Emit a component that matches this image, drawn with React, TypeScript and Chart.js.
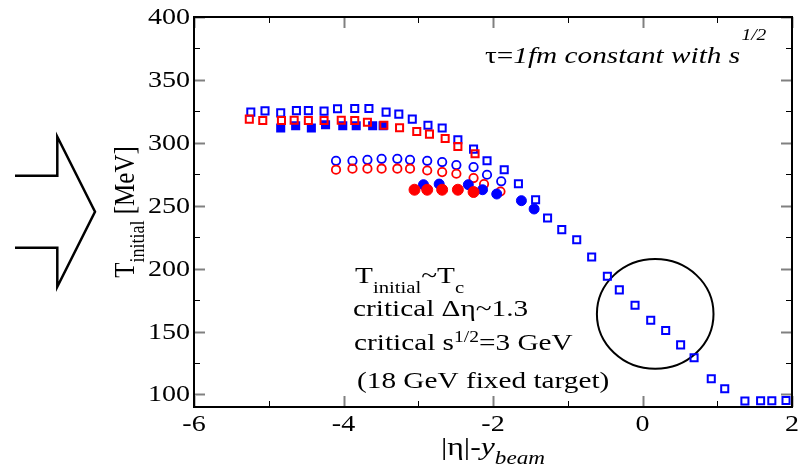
import React, { useEffect, useRef } from 'react';
import { Chart, registerables } from 'chart.js';
Chart.register(...registerables);

// ---- data (|eta| - y_beam, T_initial [MeV]) ----
const blueOpenSqX = [-5.24, -5.05, -4.84, -4.63, -4.47, -4.26, -4.08, -3.85, -3.66, -3.43, -3.26, -3.08, -2.87, -2.68, -2.47, -2.26, -2.08, -1.85, -1.66, -1.43, -1.27, -1.08, -0.88, -0.68, -0.47, -0.31, -0.10, 0.11, 0.31, 0.51, 0.69, 0.92, 1.10, 1.37, 1.58, 1.73, 1.92];
const blueOpenSqY = [324.4, 325.4, 323.8, 325.6, 325.6, 325.2, 327.0, 327.2, 327.2, 324.4, 322.8, 318.8, 314.0, 311.7, 302.4, 295.0, 285.7, 278.6, 267.5, 254.8, 240.2, 231.0, 223.0, 209.3, 193.9, 183.1, 170.9, 159.0, 150.8, 139.4, 129.1, 112.5, 104.5, 94.7, 95.0, 95.0, 95.2];

const redOpenSqX = [-5.26, -5.08, -4.83, -4.66, -4.47, -4.26, -4.03, -3.85, -3.68, -3.46, -3.25, -3.02, -2.85, -2.64, -2.47, -2.24];
const redOpenSqY = [318.8, 317.7, 317.7, 318.0, 317.7, 317.7, 318.0, 317.7, 316.4, 314.0, 312.0, 309.0, 306.9, 303.4, 297.1, 291.3];

const blueFillSqX = [-4.84, -4.64, -4.43, -4.24, -4.01, -3.83, -3.61, -3.47];
const blueFillSqY = [311.7, 313.5, 311.7, 314.3, 313.5, 313.5, 313.5, 313.5];

const blueOpenCircX = [-4.10, -3.88, -3.68, -3.49, -3.28, -3.11, -2.88, -2.68, -2.49, -2.26, -2.08, -1.89];
const blueOpenCircY = [285.7, 285.7, 286.5, 287.3, 287.3, 286.5, 285.7, 284.7, 282.3, 280.7, 274.6, 269.4];

const redOpenCircX = [-4.10, -3.88, -3.68, -3.49, -3.28, -3.11, -2.88, -2.68, -2.49, -2.26, -2.12, -1.90];
const redOpenCircY = [278.6, 279.4, 279.4, 279.4, 279.4, 279.4, 278.0, 276.7, 275.4, 272.0, 267.2, 261.3];

const blueFillCircX = [-2.93, -2.72, -2.33, -2.14, -1.95, -1.62, -1.45];
const blueFillCircY = [266.7, 267.2, 266.7, 262.7, 259.3, 254.0, 247.4];

const redFillCircX = [-3.05, -2.88, -2.68, -2.47, -2.26];
const redFillCircY = [262.7, 262.7, 262.7, 262.7, 260.9];

// highlighted region (ellipse) centre and radii in data units
const ellipseCenter = [0.17, 164];
const ellipseRadius = [0.78, 43.6];

// axes
const xRange = [-6, 2];
const yRange = [90, 400];
const xMajorTicks = [-6, -4, -2, 0, 2];
const xMinorTicks = [-5, -3, -1, 1];
const yMajorTicks = [100, 150, 200, 250, 300, 350, 400];
const yMinorTicks = [125, 175, 225, 275, 325, 375];

const FONT = '"Liberation Serif", "Times New Roman", serif';
const SX = 1.22; // the reference is stretched horizontally

const pts = (xs: number[], ys: number[]) => xs.map((x, i) => ({ x, y: ys[i] }));

type Seg = { t: string; size: number; italic?: boolean; dy?: number; gap?: number };

function segFont(s: Seg) {
  return `${s.italic ? 'italic ' : ''}${s.size}px ${FONT}`;
}

function richWidth(ctx: CanvasRenderingContext2D, segs: Seg[]) {
  let w = 0;
  for (const s of segs) {
    ctx.font = segFont(s);
    w += (s.gap || 0) + ctx.measureText(s.t).width;
  }
  return w;
}

function drawRich(ctx: CanvasRenderingContext2D, x: number, y: number, segs: Seg[], sx: number = SX, sy: number = 1) {
  ctx.save();
  ctx.translate(x, y);
  ctx.scale(sx, sy);
  ctx.textAlign = 'left';
  ctx.textBaseline = 'alphabetic';
  ctx.fillStyle = '#000';
  let cx = 0;
  for (const s of segs) {
    ctx.font = segFont(s);
    cx += s.gap || 0;
    ctx.fillText(s.t, cx, s.dy || 0);
    cx += ctx.measureText(s.t).width;
  }
  ctx.restore();
}

function drawText(ctx: CanvasRenderingContext2D, text: string, x: number, y: number, size: number, align: CanvasTextAlign, baseline: CanvasTextBaseline) {
  ctx.save();
  ctx.translate(x, y);
  ctx.scale(SX, 1);
  ctx.font = `${size}px ${FONT}`;
  ctx.textAlign = align;
  ctx.textBaseline = baseline;
  ctx.fillStyle = '#000';
  ctx.fillText(text, 0, 0);
  ctx.restore();
}

const xTitle: Seg[] = [
  { t: '|η|-', size: 26 },
  { t: 'y', size: 26, italic: true },
  { t: 'beam', size: 19, italic: true, dy: 9 },
];
const yTitle: Seg[] = [
  { t: 'T', size: 25 },
  { t: 'initial', size: 18, dy: 8 },
  { t: ' [MeV]', size: 25 },
];

const decor = {
  id: 'decor',
  beforeDatasetsDraw(chart: any) {
    const { ctx, scales } = chart;
    const xs = scales.x, ys = scales.y;
    const cx = xs.getPixelForValue(ellipseCenter[0]);
    const cy = ys.getPixelForValue(ellipseCenter[1]);
    const rx = xs.getPixelForValue(ellipseCenter[0] + ellipseRadius[0]) - cx;
    const ry = cy - ys.getPixelForValue(ellipseCenter[1] + ellipseRadius[1]);
    ctx.save();
    ctx.strokeStyle = '#000';
    ctx.lineWidth = 2;
    ctx.beginPath();
    ctx.ellipse(cx, cy, rx, ry, 0, 0, Math.PI * 2);
    ctx.stroke();
    ctx.restore();
  },
  afterDraw(chart: any) {
    const { ctx, chartArea: a, scales } = chart;
    const xs = scales.x, ys = scales.y;
    ctx.save();
    // ticks (inward, on all four sides)
    const tick = (x1: number, y1: number, x2: number, y2: number, major: boolean) => {
      ctx.strokeStyle = major ? '#808080' : '#000';
      ctx.lineWidth = major ? 2 : 1;
      ctx.beginPath();
      ctx.moveTo(x1, y1);
      ctx.lineTo(x2, y2);
      ctx.stroke();
    };
    const ML = 11, mL = 6;
    xMajorTicks.forEach(v => {
      const p = Math.round(xs.getPixelForValue(v)) + 0.5;
      tick(p, a.bottom, p, a.bottom - ML, true);
      tick(p, a.top, p, a.top + ML, true);
    });
    xMinorTicks.forEach(v => {
      const p = Math.round(xs.getPixelForValue(v)) + 0.5;
      tick(p, a.bottom, p, a.bottom - mL, false);
      tick(p, a.top, p, a.top + mL, false);
    });
    yMajorTicks.forEach(v => {
      const p = Math.round(ys.getPixelForValue(v)) + 0.5;
      tick(a.left, p, a.left + ML, p, true);
      tick(a.right, p, a.right - ML, p, true);
    });
    yMinorTicks.forEach(v => {
      const p = Math.round(ys.getPixelForValue(v)) + 0.5;
      tick(a.left, p, a.left + mL, p, false);
      tick(a.right, p, a.right - mL, p, false);
    });
    // frame
    ctx.strokeStyle = '#000';
    ctx.lineWidth = 2;
    ctx.strokeRect(a.left, a.top, a.right - a.left, a.bottom - a.top);

    // tick labels
    yMajorTicks.forEach(v => drawText(ctx, String(v), a.left - 4, ys.getPixelForValue(v) + 1, 23, 'right', 'middle'));
    xMajorTicks.forEach(v => drawText(ctx, String(v), xs.getPixelForValue(v), a.bottom + 6, 23, 'center', 'top'));

    // x title, centred under the axis
    const xc = (a.left + a.right) / 2;
    const xw = richWidth(ctx, xTitle) * SX;
    drawRich(ctx, xc - xw / 2, 455, xTitle);

    // y title (rotated), centred on the axis; the stretch acts across the glyphs
    const yc = (a.top + a.bottom) / 2;
    const yw = richWidth(ctx, yTitle);
    ctx.save();
    ctx.translate(134, yc + yw / 2);
    ctx.rotate(-Math.PI / 2);
    drawRich(ctx, 0, 0, yTitle, 1, SX);
    ctx.restore();

    // top-right annotation
    drawRich(ctx, 485, 63, [
      { t: 'τ=', size: 24 },
      { t: '1fm constant with s', size: 24, italic: true },
      { t: '1/2', size: 16, italic: true, dy: -23, gap: 1 },
    ]);

    // annotation block
    drawRich(ctx, 355, 283, [
      { t: 'T', size: 24 },
      { t: 'initial', size: 17, dy: 10 },
      { t: '~T', size: 24 },
      { t: 'c', size: 17, dy: 10 },
    ]);
    drawRich(ctx, 353, 316, [{ t: 'critical Δη~1.3', size: 24 }]);
    drawRich(ctx, 354, 350, [
      { t: 'critical s', size: 24 },
      { t: '1/2', size: 16, dy: -8 },
      { t: '=3 GeV', size: 24 },
    ]);
    drawRich(ctx, 357, 388, [{ t: '(18 GeV fixed target)', size: 24 }]);

    // big hollow arrow on the left
    ctx.strokeStyle = '#000';
    ctx.lineWidth = 2.5;
    ctx.lineJoin = 'miter';
    ctx.beginPath();
    ctx.moveTo(15, 175.7);
    ctx.lineTo(57.3, 175.7);
    ctx.lineTo(57.3, 136.7);
    ctx.lineTo(95, 211.7);
    ctx.lineTo(57.3, 286.7);
    ctx.lineTo(57.3, 247.7);
    ctx.lineTo(15, 247.7);
    ctx.stroke();
    ctx.restore();
  },
};

const BLUE = '#0000ff';
const RED = '#ff0000';
const NONE = 'rgba(0,0,0,0)';

export default function App() {
  const ref = useRef<HTMLCanvasElement>(null);
  useEffect(() => {
    const canvas = ref.current!;
    const chart = new Chart(canvas, {
      type: 'scatter',
      data: {
        datasets: [
          { label: 'red filled circles', data: pts(redFillCircX, redFillCircY), pointStyle: 'circle', pointRadius: 5.5, backgroundColor: RED, borderColor: RED, borderWidth: 1 },
          { label: 'blue filled circles', data: pts(blueFillCircX, blueFillCircY), pointStyle: 'circle', pointRadius: 5, backgroundColor: BLUE, borderColor: BLUE, borderWidth: 1 },
          { label: 'red open circles', data: pts(redOpenCircX, redOpenCircY), pointStyle: 'circle', pointRadius: 4.2, backgroundColor: NONE, borderColor: RED, borderWidth: 1.8 },
          { label: 'blue open circles', data: pts(blueOpenCircX, blueOpenCircY), pointStyle: 'circle', pointRadius: 4.2, backgroundColor: NONE, borderColor: BLUE, borderWidth: 1.8 },
          { label: 'red open squares', data: pts(redOpenSqX, redOpenSqY), pointStyle: 'rect', pointRadius: 5, backgroundColor: NONE, borderColor: RED, borderWidth: 2 },
          { label: 'blue filled squares', data: pts(blueFillSqX, blueFillSqY), pointStyle: 'rect', pointRadius: 5, backgroundColor: BLUE, borderColor: BLUE, borderWidth: 2 },
          { label: 'blue open squares', data: pts(blueOpenSqX, blueOpenSqY), pointStyle: 'rect', pointRadius: 5, backgroundColor: NONE, borderColor: BLUE, borderWidth: 2 },
        ],
      },
      options: {
        responsive: false,
        animation: false,
        events: [],
        layout: { padding: { left: 0, top: 17, right: 9, bottom: 0 } },
        plugins: { legend: { display: false }, tooltip: { enabled: false } },
        scales: {
          x: {
            type: 'linear', min: xRange[0], max: xRange[1],
            grid: { display: false, drawTicks: false }, border: { display: false },
            ticks: { display: false },
            afterFit: (s: any) => { s.height = 62; },
          },
          y: {
            type: 'linear', min: yRange[0], max: yRange[1],
            grid: { display: false, drawTicks: false }, border: { display: false },
            ticks: { display: false },
            afterFit: (s: any) => { s.width = 194; },
          },
        },
      } as any,
      plugins: [decor],
    });
    return () => chart.destroy();
  }, []);
  return (
    <div style={{ position: 'fixed', left: 0, top: 0, width: 801, height: 469, background: '#fff' }}>
      <canvas ref={ref} width={801} height={469} style={{ width: 801, height: 469, display: 'block' }} />
    </div>
  );
}
